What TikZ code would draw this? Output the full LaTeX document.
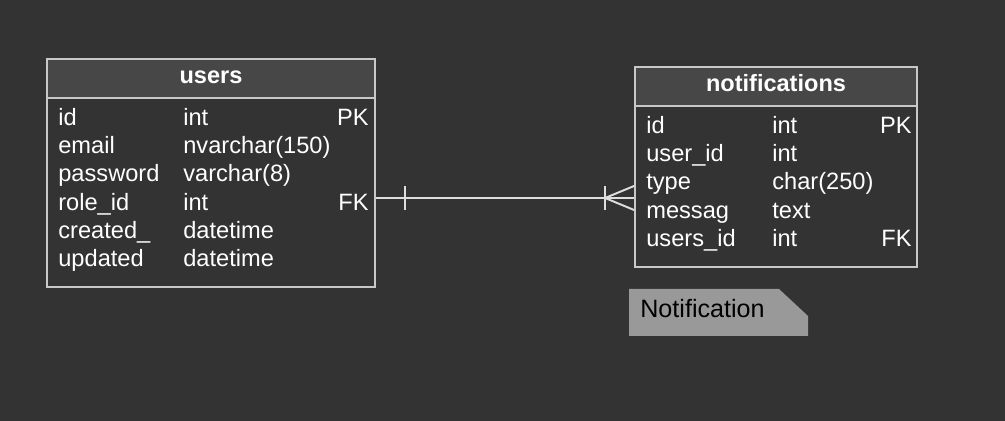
\documentclass[tikz,border=0pt]{standalone}
\usepackage{fontspec}
\setmainfont{Liberation Sans}
\usetikzlibrary{positioning}
\definecolor{bg}{HTML}{333333}
\definecolor{headfill}{HTML}{474747}
\definecolor{edge}{HTML}{C8C8C8}
\definecolor{notefill}{HTML}{999999}
\tikzset{
  tablebox/.style={draw=edge, line width=1.1pt, inner sep=0pt},
  headbox/.style={draw=edge, fill=headfill, line width=1.1pt, inner sep=0pt,
    minimum height=0.78cm},
  headtext/.style={text=white, font=\fontsize{13.4}{16}\selectfont\bfseries, inner sep=0pt},
  rowtext/.style={text=white, font=\fontsize{13.45}{16}\selectfont, inner sep=0pt},
  relline/.style={draw=edge!60!white, line width=1.1pt}
}
\begin{document}
\begin{tikzpicture}[x=0.02cm,y=-0.02cm]
    \useasboundingbox (0,0) rectangle (1005,421);
    \fill[bg] (0,0) rectangle (1005,421);
    % users table
    \node[tablebox, minimum width=6.56cm, minimum height=4.56cm] (users) at (211,173) {};
    \node[headbox, minimum width=6.56cm, anchor=north] (usershead) at (users.north) {};
    \node[headtext, anchor=base] (usersname) at (211,84) {users};
    \foreach \n/\ty/\ky [count=\i] in {id/int/PK, email/nvarchar(150)/{}, password/varchar(8)/{},
        role\_id/int/FK, created\_/datetime/{}, updated/datetime/{}} {
        \pgfmathsetmacro{\yb}{125.5+28.2*(\i-1)};
        \node[rowtext, anchor=base west] (ucol\i) at (58,\yb) {\n};
        \node[rowtext, anchor=base west] (utype\i) at (183,\yb) {\ty};
        \node[rowtext, anchor=base east] (ukey\i) at (369,\yb) {\ky};
      }
    % notifications table
    \node[tablebox, minimum width=5.64cm, minimum height=4cm] (notifications) at (776,167) {};
    \node[headbox, minimum width=5.64cm, anchor=north] (notifhead) at (notifications.north) {};
    \node[headtext, anchor=base] (notifname) at (776,92) {notifications};
    \foreach \n/\ty/\ky [count=\i] in {id/int/PK, user\_id/int/{}, type/char(250)/{},
        messag/text/{}, users\_id/int/FK} {
        \pgfmathsetmacro{\yb}{133.5+28.2*(\i-1)};
        \node[rowtext, anchor=base west] (ncol\i) at (646,\yb) {\n};
        \node[rowtext, anchor=base west] (ntype\i) at (772,\yb) {\ty};
        \node[rowtext, anchor=base east] (nkey\i) at (912,\yb) {\ky};
      }
    % relation: one users -- many notifications
    \coordinate (uend) at (users.east |- 0,198);
    \coordinate (nend) at (notifications.west |- 0,198);
    \draw[relline] (uend) -- (nend);
    \draw[relline] (uend) ++(29,-12) -- ++(0,24);
    \draw[relline] (nend) ++(-29,-12) -- ++(0,24);
    \draw[relline] (nend) ++(0,-12) -- ++(-29,12) -- ++(29,12);
    % note
    \fill[notefill] (629,289) -- (779,289) -- (808,316) -- (808,336) -- (629,336) -- cycle;
    \node[inner sep=0pt, anchor=base west, text=black, font=\fontsize{14.3}{16}\selectfont] (note) at (640,318) {Notification};
\end{tikzpicture}
\end{document}
